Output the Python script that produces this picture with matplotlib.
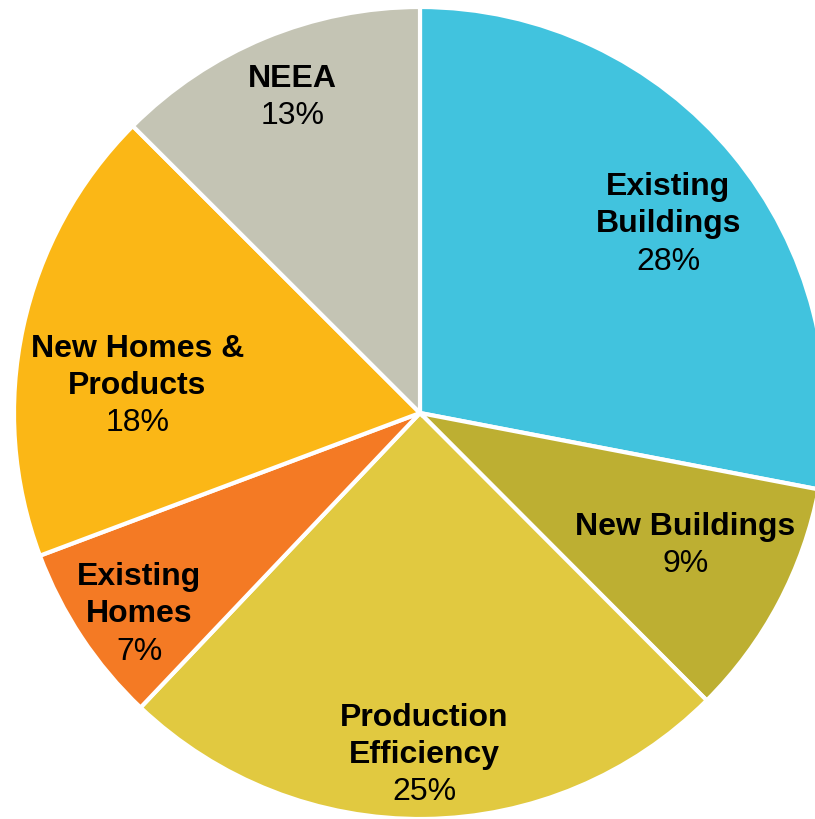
import numpy as np
import matplotlib
matplotlib.use("Agg")
import matplotlib.pyplot as plt

categories = ["Existing\nBuildings", "New Buildings", "Production\nEfficiency",
              "Existing\nHomes", "New Homes &\nProducts", "NEEA"]
values = [28.0, 9.5, 24.55, 7.2, 18.2, 12.5]
pct_labels = ["28%", "9%", "25%", "7%", "18%", "13%"]
colors = ["#41C3DE", "#BDAF32", "#E1C940", "#F47A24", "#FBB716", "#C4C4B4"]
label_radius = [0.77, 0.73, 0.84, 0.85, 0.70, 0.84]
angle_shift = [-2.2, 1.6, 0.0, 2.0, 6.5, -0.5]

plt.rcParams['font.family'] = ['Liberation Sans', 'DejaVu Sans']

W, H = 815, 820
fig = plt.figure(figsize=(W / 100, H / 100), dpi=100)
cx, cy, R = 420, 414, 406
ax = fig.add_axes([(cx - R) / W, (H - cy - R) / H, 2 * R / W, 2 * R / H])

wedges, _ = ax.pie(values, colors=colors, startangle=90, counterclock=False,
                   radius=1.0, wedgeprops=dict(edgecolor="white", linewidth=3.0))
ax.set_xlim(-1, 1)
ax.set_ylim(-1, 1)
ax.axis("off")

FS = 23
line_h = 0.092
for w, name, pct, r, sh in zip(wedges, categories, pct_labels, label_radius, angle_shift):
    mid = np.deg2rad((w.theta1 + w.theta2) / 2 + sh)
    x, y = r * np.cos(mid), r * np.sin(mid)
    nlines = name.count("\n") + 1
    total = nlines + 1
    top = y + (total - 1) * line_h / 2
    ax.text(x, top - (nlines - 1) * line_h / 2, name, ha="center", va="center",
            fontsize=FS, fontweight="bold", linespacing=1.3)
    ax.text(x, top - nlines * line_h, pct, ha="center", va="center", fontsize=FS)

fig.savefig("out.png", dpi=100)
